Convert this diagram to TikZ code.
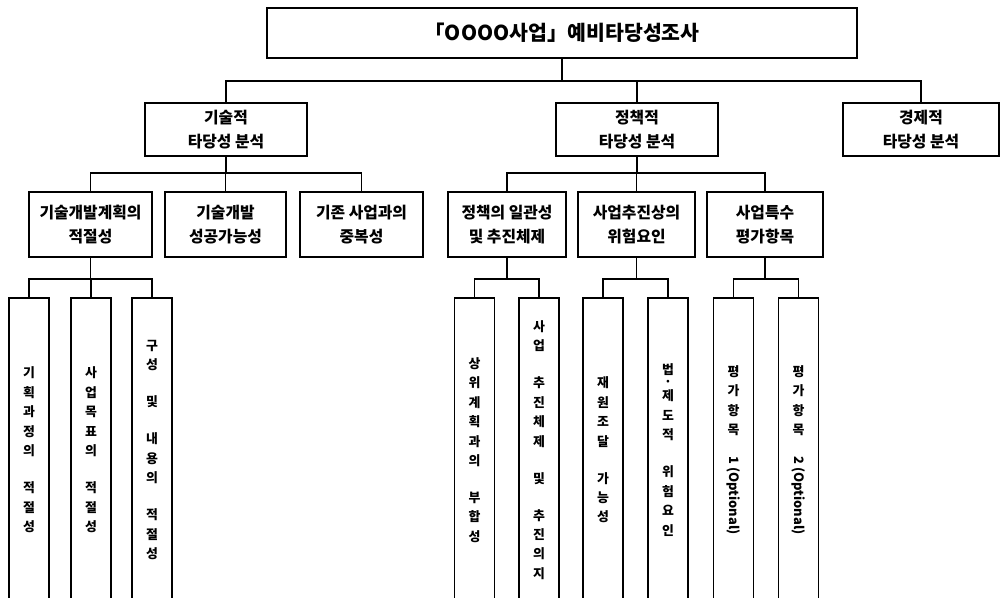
\documentclass[tikz,border=0pt]{standalone}
\usepackage{fontspec}
\setmainfont{Noto Sans CJK KR}
\begin{document}
\begin{tikzpicture}[x=0.03cm, y=-0.03cm,
			every node/.style={draw, line width=1.5pt, align=center, inner sep=0, font=\bfseries\fontsize{13.5}{20.5}\selectfont},
			head/.style={minimum width=17.7cm, minimum height=1.5cm, font=\bfseries\fontsize{17.5}{20}\selectfont},
			branch/.style={minimum width=4.86cm, minimum height=1.59cm},
			sub/.style={minimum height=1.95cm},
			leaf/.style={minimum width=1.2cm, minimum height=9.12cm, font=\bfseries\fontsize{11}{16.6}\selectfont},
			link/.style={line width=1.1pt},
		]
		\useasboundingbox (0,0) rectangle (1001,598);
		\clip (0,0) rectangle (1001,598);
		\node[head] (study) at (562,33) {「OOOO사업」예비타당성조사};
		\node[branch] (tech) at (226,129.5) {기술적\\타당성 분석};
		\node[branch] (policy) at (637,129.5) {정책적\\타당성 분석};
		\node[branch, minimum width=4.68cm] (econ) at (921,129.5) {경제적\\타당성 분석};
		\node[sub, minimum width=3.69cm] (plan) at (90.5,224.5) {기술개발계획의\\적절성};
		\node[sub, minimum width=3.63cm] (success) at (225.5,224.5) {기술개발\\성공가능성};
		\node[sub, minimum width=3.69cm] (overlap) at (361.5,224.5) {기존 사업과의\\중복성};
		\node[sub, minimum width=3.54cm] (consist) at (507,224.5) {정책의 일관성\\및 추진체제};
		\node[sub, minimum width=3.51cm] (risk) at (636.5,224.5) {사업추진상의\\위험요인};
		\node[sub, minimum width=3.48cm] (special) at (765,224.5) {사업특수\\평가항목};
		\node[leaf] (planA) at (29,450) {기\\획\\과\\정\\의\\[15pt]적\\절\\성};
		\node[leaf] (planB) at (91,450) {사\\업\\목\\표\\의\\[15pt]적\\절\\성};
		\node[leaf] (planC) at (152,450) {구\\성\\[15pt]및\\[15pt]내\\용\\의\\[15pt]적\\절\\성};
		\node[leaf] (consA) at (474.5,450) {상\\위\\계\\획\\과\\의\\[15pt]부\\합\\성};
		\node[leaf] (consB) at (539,450) {사\\업\\[15pt]추\\진\\체\\제\\[15pt]및\\[15pt]추\\진\\의\\지};
		\node[leaf] (riskA) at (603,450) {재\\원\\조\\달\\[15pt]가\\능\\성};
		\node[leaf] (riskB) at (668,450) {법\\[-7pt]·\\[-4pt]제\\도\\적\\[15pt]위\\험\\요\\인};
		\node[leaf] (specA) at (733.5,450) {평\\가\\항\\목\\[2pt]\rotatebox{-90}{1 (Optional)}};
		\node[leaf] (specB) at (798.5,450) {평\\가\\항\\목\\[2pt]\rotatebox{-90}{2 (Optional)}};
		\foreach \c in {tech,policy,econ}
			\draw[link] (study.south) -- ++(0,22) -| (\c.north);
		\foreach \c in {plan,success,overlap}
			\draw[link] (tech.south) -- ++(0,16) -| (\c.north);
		\foreach \c in {consist,risk,special}
			\draw[link] (policy.south) -- ++(0,16) -| (\c.north);
		\foreach \p/\c in {plan/planA,plan/planB,plan/planC,consist/consA,consist/consB,risk/riskA,risk/riskB,special/specA,special/specB}
			\draw[link] (\p.south) -- ++(0,21) -| (\c.north);
	\end{tikzpicture}
\end{document}
